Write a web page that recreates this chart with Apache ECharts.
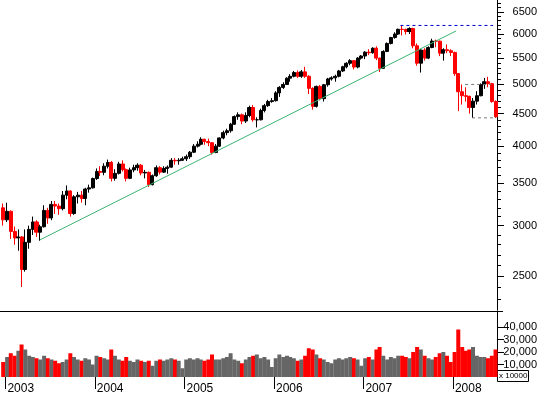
<!DOCTYPE html>
<html><head><meta charset="utf-8">
<script src="https://cdn.jsdelivr.net/npm/echarts@6/dist/echarts.min.js"></script>
<style>html,body{margin:0;padding:0;background:#fff}#c{width:542px;height:395px}</style>
</head><body><div id="c"></div>
<script>
// half-monthly periods (centre dates on the 8th and 23rd)
const periodDates = [];
for (let y = 2002; y <= 2008; y++) for (let m = 1; m <= 12; m++) for (const d of [8, 23]) {
  const s = y + '-' + String(m).padStart(2, '0') + '-' + String(d).padStart(2, '0');
  if (s >= '2002-12-23' && s <= '2008-06-23') periodDates.push(s);
}
// [open, close, low, high]
const priceOHLC = [
  [3200,3064,3000,3250],
  // 2003
  [3064,3160,3040,3260],[3160,2938,2860,3170],[2938,2870,2800,2990],[2870,2880,2740,2960],
  [2880,2560,2403,2890],[2560,2824,2540,2960],[2824,2960,2760,3000],[2960,3040,2900,3100],
  [3040,2930,2880,3060],[2930,2988,2840,3010],[2988,3170,2980,3230],[3170,3085,3020,3200],
  [3085,3240,3060,3280],[3240,3220,3130,3280],[3220,3190,3120,3250],[3190,3350,3170,3400],
  [3350,3400,3300,3470],[3400,3134,3100,3410],[3134,3330,3120,3350],[3330,3350,3250,3390],
  [3350,3310,3260,3400],[3310,3425,3230,3440],[3425,3440,3380,3480],[3440,3558,3430,3570],
  // 2004
  [3558,3650,3540,3690],[3650,3638,3590,3720],[3638,3720,3600,3760],[3720,3770,3690,3810],
  [3770,3560,3520,3790],[3560,3625,3530,3680],[3625,3750,3610,3780],[3750,3674,3650,3800],
  [3674,3560,3520,3690],[3560,3670,3550,3700],[3670,3700,3640,3740],[3700,3733,3660,3760],
  [3733,3630,3600,3750],[3630,3638,3560,3670],[3638,3480,3450,3650],[3480,3594,3470,3610],
  [3594,3700,3580,3730],[3700,3641,3610,3720],[3641,3690,3630,3720],[3690,3707,3620,3730],
  [3707,3800,3700,3830],[3800,3793,3740,3830],[3793,3800,3740,3830],[3800,3821,3790,3850],
  // 2005
  [3821,3850,3790,3880],[3850,3913,3820,3930],[3913,4000,3900,4030],[4000,4027,3980,4070],
  [4027,4100,4010,4130],[4100,4068,4020,4110],[4068,4050,4000,4110],[4050,3908,3880,4060],
  [3908,4000,3900,4030],[4000,4120,3990,4130],[4120,4200,4100,4230],[4200,4229,4160,4260],
  [4229,4330,4200,4350],[4330,4451,4320,4470],[4451,4480,4400,4520],[4480,4380,4330,4500],
  [4380,4470,4350,4520],[4470,4600,4440,4630],[4600,4400,4370,4640],[4400,4400,4280,4440],
  [4400,4550,4390,4580],[4550,4631,4520,4660],[4631,4700,4610,4730],[4700,4715,4680,4760],
  // 2006
  [4715,4850,4700,4880],[4850,4947,4780,4970],[4947,5000,4920,5040],[5000,5115,4990,5130],
  [5115,5150,5050,5190],[5150,5220,5130,5250],[5220,5150,5120,5260],[5150,5233,5120,5270],
  [5233,5150,5120,5330],[5150,4930,4830,5170],[4930,4620,4564,4950],[4620,4965,4600,4980],
  [4965,4750,4720,4990],[4750,4995,4700,5010],[4995,5100,4960,5120],[5100,5121,5070,5150],
  [5121,5150,5050,5180],[5150,5250,5130,5270],[5250,5330,5230,5350],[5330,5398,5300,5420],
  [5398,5450,5360,5480],[5450,5325,5280,5460],[5325,5500,5300,5520],[5500,5542,5470,5560],
  // 2007
  [5542,5620,5480,5640],[5620,5608,5560,5680],[5608,5700,5590,5720],[5700,5500,5460,5740],
  [5500,5300,5230,5510],[5300,5634,5290,5660],[5634,5800,5620,5820],[5800,5925,5780,5940],
  [5925,6000,5900,6040],[6000,6104,5980,6120],[6104,6100,5970,6190],[6100,6055,5990,6120],
  [6055,6120,6000,6150],[6120,5751,5700,6140],[5751,5400,5350,5800],[5400,5662,5220,5680],
  [5662,5500,5450,5700],[5500,5715,5480,5740],[5715,5850,5700,5900],[5850,5848,5720,5880],
  [5848,5600,5540,5860],[5600,5670,5450,5700],[5670,5650,5600,5780],[5650,5614,5540,5680],
  // 2008
  [5614,5200,5160,5630],[5200,4870,4540,5210],[4870,4800,4650,5000],[4800,4790,4700,4950],
  [4790,4600,4500,4800],[4600,4707,4431,4760],[4707,4800,4650,4880],[4800,4996,4790,5020],
  [4996,5050,4920,5120],[5050,5014,4950,5140],[5014,4700,4680,5030],[4700,4450,4430,4720]
];
const volumes = [
  12000,
  16000,19000,17000,21000,26000,22000,17000,16000,15000,14000,17000,15000,
  14000,13000,11000,12000,14000,19000,16000,14000,13000,15000,14000,10000,
  17000,16000,15000,14000,22000,17000,14000,13000,16000,13000,12000,14000,
  13000,12000,13000,9000,13000,14000,13000,14000,15000,14000,13000,7000,
  14000,15000,14000,15000,14000,13000,14000,18000,14000,14000,15000,16000,
  19000,14000,13000,11000,14000,16000,17000,18000,15000,16000,14000,8000,
  15000,18000,16000,17000,16000,15000,13000,14000,17000,23000,22000,18000,
  15000,14000,12000,11000,14000,15000,14000,15000,16000,15000,14000,9000,
  15000,16000,14000,22000,24000,17000,14000,16000,15000,17000,17000,16000,
  15000,20000,24000,22000,17000,15000,14000,16000,19000,20000,17000,12000,
  20000,38000,24000,21000,22000,24000,17000,16000,16000,15000,17000,22000
];
const priceTicks = [2500,3000,3500,4000,4500,5000,5500,6000,6500];
const priceMinorTicks = [2300,2400,2500,2600,2700,2800,2900,3000,3100,3200,3300,3400,3500,3600,3700,3800,3900,
  4000,4100,4200,4300,4400,4500,4600,4700,4800,4900,5000,5100,5200,5300,5400,5500,5600,5700,5800,5900,
  6000,6100,6200,6300,6400,6500,6600,6700];
const volumeTicks = [10000,20000,30000,40000];
const yearTicks = ['2003-01-01','2004-01-01','2005-01-01','2006-01-01','2007-01-01','2008-01-01'];
const trendLine = [['2003-05-21',2848],['2008-01-14',6068]];
const peakLine = [['2007-06-01',6190],['2008-06-13',6190]];
const rangeHigh = [['2008-02-20',5000],['2008-06-05',5000]];
const rangeLow = [['2008-03-19',4431],['2008-06-26',4431]];

const ts = s => Date.parse(s + 'T00:00:00Z');
const PMIN = 2211, PMAX = 6787, VMAX = 52800;
const XMIN = ts('2002-12-10'), XMAX = ts('2008-06-29');
const FONT = '"Liberation Sans", Arial, sans-serif';

const chart = echarts.init(document.getElementById('c'), null, {renderer: 'canvas'});
const candleData = periodDates.map((d, i) => [ts(d)].concat(priceOHLC[i]));
const volData = periodDates.map((d, i) => ({
  value: [ts(d), volumes[i]],
  itemStyle: {color: priceOHLC[i][1] < priceOHLC[i][0] ? '#ff0000' : '#666666'}
}));
const pts = arr => arr.map(p => [ts(p[0]), p[1]]);
const lnTicks = priceTicks.map(Math.log);
const lnMinor = priceMinorTicks.map(Math.log);
const yearVals = yearTicks.map(ts);

chart.setOption({
  animation: false,
  backgroundColor: '#fff',
  grid: [
    {left: 0, right: 45, top: 0, height: 310},
    {left: 0, right: 45, top: 311, height: 66}
  ],
  xAxis: [
    {type: 'value', gridIndex: 0, min: XMIN, max: XMAX, show: false},
    {type: 'value', gridIndex: 1, min: XMIN, max: XMAX, position: 'bottom', offset: 4,
      axisLine: {show: false}, splitLine: {show: false},
      axisTick: {show: true, customValues: yearVals, length: 12, lineStyle: {color: '#000', width: 1}},
      axisLabel: {customValues: yearVals, formatter: v => String(new Date(v).getUTCFullYear()),
        align: 'left', margin: 2, padding: [0, 0, 0, 2], color: '#000', fontSize: 12, fontFamily: FONT}
    }
  ],
  yAxis: [
    {type: 'log', logBase: 10, gridIndex: 0, min: PMIN, max: PMAX, position: 'right',
      axisLine: {show: true, lineStyle: {color: '#000', width: 1}},
      axisTick: {show: false}, axisLabel: {show: false}, splitLine: {show: false}},
    {type: 'value', gridIndex: 0, min: Math.log(PMIN), max: Math.log(PMAX), position: 'right',
      axisLine: {show: false}, splitLine: {show: false},
      axisTick: {show: true, customValues: lnTicks, length: 7, lineStyle: {color: '#000'}},
      axisLabel: {customValues: lnTicks, formatter: v => String(Math.round(Math.exp(v))),
        align: 'right', margin: 40, color: '#000', fontSize: 11, fontFamily: FONT}},
    {type: 'value', gridIndex: 0, min: Math.log(PMIN), max: Math.log(PMAX), position: 'right',
      axisLine: {show: false}, splitLine: {show: false},
      axisTick: {show: true, customValues: lnMinor, length: 4, lineStyle: {color: '#000'}},
      axisLabel: {show: false}},
    {type: 'value', gridIndex: 1, min: 0, max: VMAX, position: 'right',
      axisLine: {show: true, lineStyle: {color: '#000', width: 1}}, splitLine: {show: false},
      axisTick: {show: true, customValues: volumeTicks, length: 7, lineStyle: {color: '#000'}},
      axisLabel: {customValues: volumeTicks, align: 'right', margin: 40, color: '#000', fontSize: 11, fontFamily: FONT}}
  ],
  series: [
    {type: 'candlestick', name: 'CAC 40', xAxisIndex: 0, yAxisIndex: 0, data: candleData,
      encode: {x: 0, y: [1, 2, 3, 4]}, barWidth: '95%',
      itemStyle: {color: '#000', color0: '#ff0000', borderColor: '#000', borderColor0: '#ff0000', borderWidth: 1}},
    {type: 'line', xAxisIndex: 0, yAxisIndex: 0, data: pts(trendLine), symbol: 'none',
      lineStyle: {color: '#3cb371', width: 1}},
    {type: 'line', xAxisIndex: 0, yAxisIndex: 0, data: pts(peakLine), symbol: 'none',
      lineStyle: {color: '#0000cc', width: 1, type: [3, 3]}},
    {type: 'line', xAxisIndex: 0, yAxisIndex: 0, data: pts(rangeHigh), symbol: 'none',
      lineStyle: {color: '#777', width: 1, type: [3, 3]}},
    {type: 'line', xAxisIndex: 0, yAxisIndex: 0, data: pts(rangeLow), symbol: 'none',
      lineStyle: {color: '#777', width: 1, type: [3, 3]}},
    {type: 'bar', name: 'Volume', xAxisIndex: 1, yAxisIndex: 3, data: volData, barWidth: 4}
  ],
  graphic: [
    {type: 'line', shape: {x1: 0, y1: 311.5, x2: 503, y2: 311.5}, style: {stroke: '#000', lineWidth: 1}},
    {type: 'rect', shape: {x: 497.5, y: 370.5, width: 31, height: 11}, style: {fill: '#fff', stroke: '#000', lineWidth: 1}},
    {type: 'text', x: 499, y: 372, style: {text: 'x 10000', fontSize: 8, fontFamily: FONT, fill: '#000'}}
  ]
});
</script>
</body></html>
